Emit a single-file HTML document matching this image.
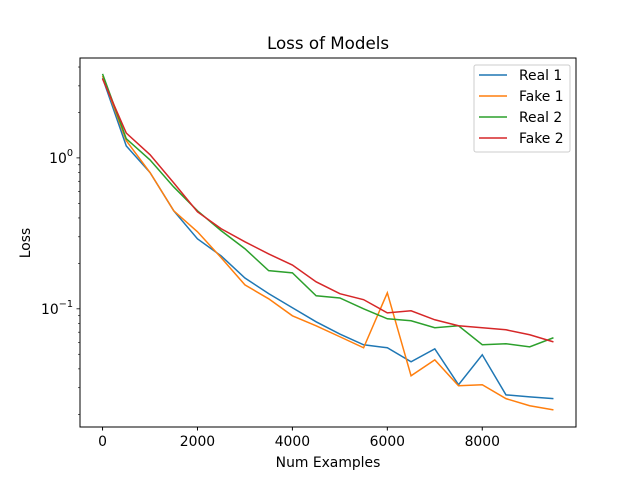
<!DOCTYPE html>
<html><head><meta charset="utf-8"><style>body{margin:0;background:#fff}svg{display:block;font-family:"DejaVu Sans","Liberation Sans",sans-serif}</style></head>
<body>
<svg id="c" width="640" height="480">
<rect width="640" height="480" fill="#fff"/>
<text x="328" y="49" font-size="16.7" text-anchor="middle">Loss of Models</text>
<text x="328" y="467" font-size="13.9" text-anchor="middle">Num Examples</text>
<text x="30" y="243" font-size="13.9" text-anchor="middle" transform="rotate(-90 30 243)">Loss</text>
<g id="ax"></g>
<g id="lines"></g>
<rect x="80" y="58" width="496" height="369" fill="none" stroke="#000" stroke-width="1"/>
<g id="legend"></g>
</svg>
<script>
const xs=[0,500,1000,1500,2000,2500,3000,3500,4000,4500,5000,5500,6000,6500,7000,7500,8000,8500,9000,9500];
const seriesNames=["Real 1","Fake 1","Real 2","Fake 2"];
const colors=["#1f77b4","#ff7f0e","#2ca02c","#d62728"];
const real1=[3.39,1.20,0.80,0.446,0.291,0.224,0.160,0.126,0.1016,0.082,0.068,0.0578,0.0552,0.0446,0.0543,0.0314,0.0496,0.0269,0.0261,0.0254];
const fake1=[3.49,1.30,0.80,0.446,0.324,0.218,0.144,0.1165,0.0899,0.0772,0.0653,0.0552,0.1277,0.036,0.0459,0.0309,0.0314,0.0254,0.0228,0.0214];
const real2=[3.60,1.34,0.97,0.642,0.446,0.329,0.250,0.179,0.173,0.122,0.118,0.100,0.0859,0.0833,0.0749,0.0772,0.0578,0.0587,0.056,0.0643];
const fake2=[3.34,1.46,1.05,0.683,0.439,0.339,0.278,0.231,0.195,0.151,0.126,0.115,0.094,0.097,0.0846,0.0772,0.0749,0.0726,0.0673,0.0604];
const xTicks=[0,2000,4000,6000,8000];
const ns="http://www.w3.org/2000/svg";
const X0=80,X1=576,Y0=58,Y1=427,xmin=-475,xmax=9975;
const lmin=Math.log10(0.01648),lmax=Math.log10(4.59);
const sx=v=>X0+(v-xmin)/(xmax-xmin)*(X1-X0);
const sy=v=>Y1-(Math.log10(v)-lmin)/(lmax-lmin)*(Y1-Y0);
function mk(t,a,p){const e=document.createElementNS(ns,t);for(const k in a)e.setAttribute(k,a[k]);p.appendChild(e);return e;}
const ax=document.getElementById('ax');
xTicks.forEach(t=>{const x=sx(t);
const l=mk('line',{x1:x,x2:x,y1:Y1,y2:Y1+3.5,stroke:'#000'},ax);


const tx=mk('text',{x:x,y:Y1+19,'font-size':13.9,'text-anchor':'middle'},ax);tx.textContent=t;

});
[-2,-1,0].forEach(d=>{for(let m=1;m<10;m++){const v=m*Math.pow(10,d);if(v<0.01648||v>4.59)continue;const y=sy(v);
const l=mk('line',{x1:X0,x2:X0-(m==1?3.5:2),y1:y,y2:y,stroke:'#000','stroke-width':m==1?0.8:0.6},ax);


if(m==1){const tx=mk('text',{x:X0-7,y:y+5,'font-size':13.9,'text-anchor':'end'},ax);
tx.innerHTML='10<tspan dy="-7" font-size="9.7">'+(d<0?'\u2212'+(-d):d)+'</tspan>';

}}});
const data=[real1,fake1,real2,fake2];
const lg=document.getElementById('lines');
data.forEach((s,i)=>{const p=mk('polyline',{points:s.map((v,j)=>sx(xs[j])+','+sy(v)).join(' '),fill:'none',stroke:colors[i],'stroke-width':1.5},lg);

});
const leg=document.getElementById('legend');
const box=mk('rect',{x:474,y:65,width:96,height:87,rx:2,fill:'#fff','fill-opacity':0.8,stroke:'#ccc'},leg);


seriesNames.forEach((n,i)=>{const y=75+i*21;
const l=mk('line',{x1:479,x2:507,y1:y,y2:y,stroke:colors[i],'stroke-width':1.5},leg);


const t=mk('text',{x:519,y:y+5,'font-size':13.9},leg);t.textContent=n;

});
</script>
</body></html>
